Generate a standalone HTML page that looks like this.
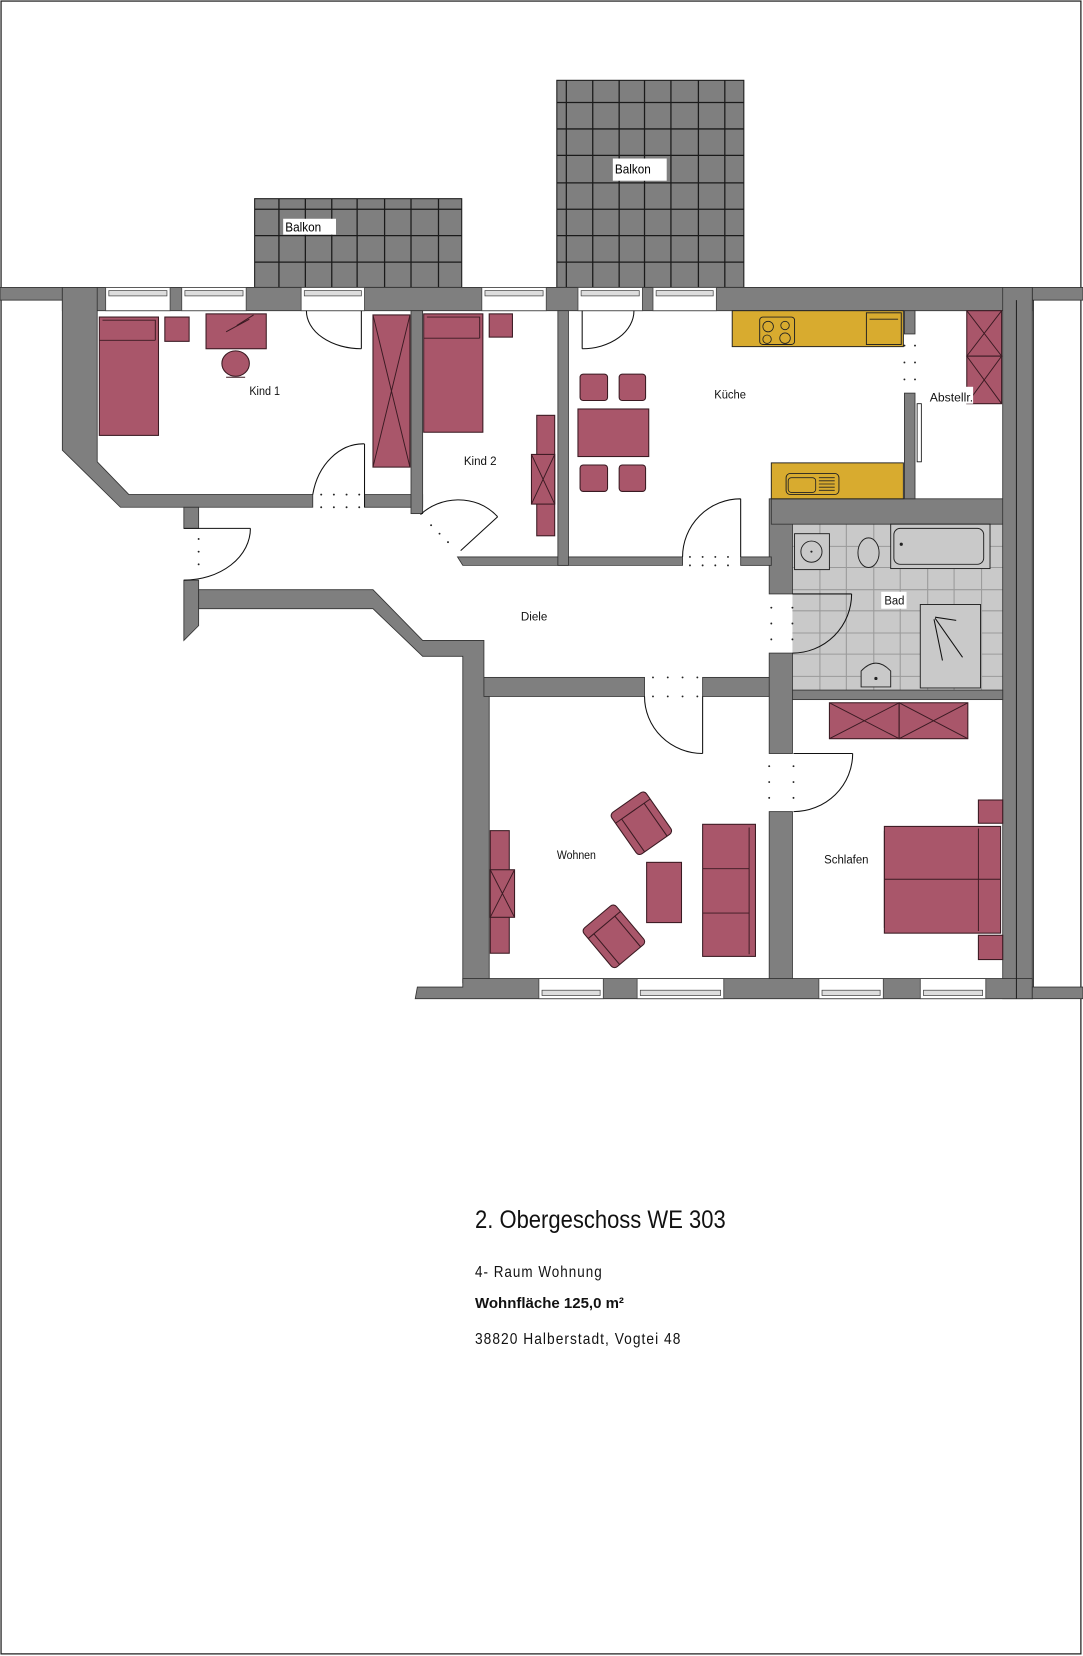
<!DOCTYPE html>
<html><head><meta charset="utf-8"><style>
html,body{margin:0;padding:0;background:#fff}
#w{position:relative;width:1083px;height:1656px;overflow:hidden}
svg{position:absolute;left:0;top:0}
.t{position:absolute;left:475px;white-space:nowrap;color:#111;transform-origin:0 0}
</style></head><body><div id="w">
<svg width="1083" height="1656" viewBox="0 0 1025 1567" preserveAspectRatio="none" font-family="'Liberation Sans',sans-serif">
<rect x="1" y="1" width="1022" height="1564" fill="#fff" stroke="#222" stroke-width="1.2"/>
<g fill="#7f7f7f" stroke="#1a1a1a" stroke-width="1">
<rect x="241" y="188" width="196" height="84"/>
<rect x="527" y="76" width="177" height="196"/>
</g>
<g stroke="#1a1a1a" stroke-width="1.2">
<path d="M264 188V272M289 188V272M314 188V272M338 188V272M364 188V272M389 188V272M415 188V272M241 198H437M241 223H437M241 248H437"/>
<path d="M536 76V272M561 76V272M586 76V272M610 76V272M635 76V272M661 76V272M686 76V272M527 97H704M527 122H704M527 147H704M527 173H704M527 198H704M527 223H704M527 248H704"/>
</g>
<rect x="268" y="207" width="50" height="15" fill="#fff"/>
<text x="270" y="219" font-size="12" textLength="34" lengthAdjust="spacingAndGlyphs">Balkon</text>
<rect x="580" y="150" width="51" height="21" fill="#fff"/>
<text x="582" y="164" font-size="12" textLength="34" lengthAdjust="spacingAndGlyphs">Balkon</text>
<rect x="750" y="496" width="199" height="157" fill="#c9c9c9"/>
<g stroke="#9a9a9a" stroke-width="1">
<path d="M776 496V653M801 496V653M827 496V653M852 496V653M878 496V653M903 496V653M929 496V653M750 517H949M750 537H949M750 558H949M750 578H949M750 599H949M750 619H949M750 640H949"/>
</g>
<g fill="#7f7f7f" stroke="#333" stroke-width="0.8">
<rect x="0" y="272" width="1025" height="12"/>
<rect x="59" y="272" width="918" height="22"/>
<polygon points="59,272 92,272 92,437 122,468 296,468 296,480 114,480 59,426"/>
<rect x="345" y="468" width="55" height="12"/>
<rect x="389" y="294" width="11" height="192"/>
<rect x="174" y="480" width="14" height="20"/>
<polygon points="174,549 188,549 188,592 174,606"/>
<polygon points="188,558 353,558 400,606 458,606 458,641 463,641 463,930 438,930 438,621 400,621 353,576 188,576"/>
<rect x="458" y="641" width="152" height="18"/>
<rect x="665" y="641" width="65" height="18"/>
<rect x="728" y="472" width="22" height="90"/>
<rect x="728" y="618" width="22" height="95"/>
<rect x="728" y="768" width="22" height="162"/>
<polygon points="433,527 646,527 646,535 438,535"/>
<rect x="701" y="527" width="29" height="8"/>
<rect x="528" y="294" width="10" height="241"/>
<rect x="730" y="472" width="232" height="24"/>
<rect x="949" y="272" width="28" height="673"/>
<rect x="856" y="294" width="10" height="22"/>
<rect x="856" y="372" width="10" height="100"/>
<rect x="750" y="653" width="199" height="9"/>
<polygon points="395,934 438,934 438,926 977,926 977,945 393,945"/>
<rect x="977" y="934" width="48" height="11"/>
</g>
<path d="M962 284V945M978 284V934" stroke="#222" stroke-width="1"/>
<g fill="#fff" stroke="#444" stroke-width="0.8">
<rect x="100" y="272" width="61" height="22"/><rect x="172" y="272" width="61" height="22"/>
<rect x="285" y="272" width="60" height="22"/><rect x="456" y="272" width="61" height="22"/>
<rect x="547" y="272" width="61" height="22"/><rect x="618" y="272" width="60" height="22"/>
<rect x="510" y="926" width="61" height="19"/><rect x="603" y="926" width="82" height="19"/>
<rect x="775" y="926" width="61" height="19"/><rect x="871" y="926" width="62" height="19"/>
</g>
<g fill="#ddd" stroke="#444" stroke-width="0.7">
<rect x="103" y="275" width="55" height="5"/><rect x="175" y="275" width="55" height="5"/>
<rect x="288" y="275" width="54" height="5"/><rect x="459" y="275" width="55" height="5"/>
<rect x="550" y="275" width="55" height="5"/><rect x="621" y="275" width="54" height="5"/>
<rect x="513" y="937" width="55" height="5"/><rect x="606" y="937" width="76" height="5"/>
<rect x="778" y="937" width="55" height="5"/><rect x="874" y="937" width="56" height="5"/>
</g>
<g fill="none" stroke="#111" stroke-width="1">
<path d="M342 294V330M342 330A52 36 0 0 1 290 294"/>
<path d="M551 294V330M551 330A49 36 0 0 0 600 294"/>
<path d="M345 480V420M345 420A49 60 0 0 0 296 468"/>
<path d="M174 500H237M237 500A63 49 0 0 1 174 549"/>
<path d="M436 521L471 489M471 489C450 466 415 470 398 487"/>
<path d="M701 527V472M701 472A55 55 0 0 0 646 527"/>
<path d="M750 562H806M806 562A56 56 0 0 1 750 618"/>
<path d="M665 659V713M665 713A55 54 0 0 1 610 659"/>
<path d="M751 713H807M807 713A56 55 0 0 1 751 768"/>
</g>
<g fill="#222">
<circle cx="304" cy="480" r=".9"/><circle cx="316" cy="480" r=".9"/><circle cx="328" cy="480" r=".9"/><circle cx="340" cy="480" r=".9"/>
<circle cx="304" cy="468" r=".9"/><circle cx="316" cy="468" r=".9"/><circle cx="328" cy="468" r=".9"/><circle cx="340" cy="468" r=".9"/>
<circle cx="188" cy="510" r=".9"/><circle cx="188" cy="522" r=".9"/><circle cx="188" cy="534" r=".9"/>
<circle cx="653" cy="535" r=".9"/><circle cx="665" cy="535" r=".9"/><circle cx="677" cy="535" r=".9"/><circle cx="689" cy="535" r=".9"/>
<circle cx="653" cy="527" r=".9"/><circle cx="665" cy="527" r=".9"/><circle cx="677" cy="527" r=".9"/><circle cx="689" cy="527" r=".9"/>
<circle cx="730" cy="575" r=".9"/><circle cx="730" cy="590" r=".9"/><circle cx="730" cy="605" r=".9"/>
<circle cx="750" cy="575" r=".9"/><circle cx="750" cy="590" r=".9"/><circle cx="750" cy="605" r=".9"/>
<circle cx="618" cy="641" r=".9"/><circle cx="632" cy="641" r=".9"/><circle cx="646" cy="641" r=".9"/><circle cx="660" cy="641" r=".9"/>
<circle cx="618" cy="659" r=".9"/><circle cx="632" cy="659" r=".9"/><circle cx="646" cy="659" r=".9"/><circle cx="660" cy="659" r=".9"/>
<circle cx="728" cy="725" r=".9"/><circle cx="728" cy="740" r=".9"/><circle cx="728" cy="755" r=".9"/>
<circle cx="751" cy="725" r=".9"/><circle cx="751" cy="740" r=".9"/><circle cx="751" cy="755" r=".9"/>
<circle cx="856" cy="327" r=".9"/><circle cx="856" cy="343" r=".9"/><circle cx="856" cy="359" r=".9"/>
<circle cx="866" cy="327" r=".9"/><circle cx="866" cy="343" r=".9"/><circle cx="866" cy="359" r=".9"/>
<circle cx="408" cy="497" r=".9"/><circle cx="416" cy="505" r=".9"/><circle cx="424" cy="513" r=".9"/>
</g>
<rect x="868" y="382" width="4" height="55" fill="#fff" stroke="#111" stroke-width="0.8"/>
<g fill="#d8ab2f" stroke="#222" stroke-width="0.9">
<rect x="693" y="294" width="162" height="34"/>
<rect x="730" y="438" width="125" height="34"/>
<rect x="719" y="300" width="33" height="26" rx="3"/>
<rect x="820" y="296" width="33" height="30"/>
<rect x="744" y="448" width="50" height="20" rx="4"/>
</g>
<g fill="none" stroke="#222" stroke-width="0.8">
<circle cx="727" cy="309" r="5"/><circle cx="743" cy="308" r="4"/><circle cx="726" cy="321" r="4"/><circle cx="743" cy="320" r="5"/>
<rect x="746" y="452" width="26" height="14" rx="3"/>
<path d="M775 452H790M775 455H790M775 458H790M775 461H790M775 464H790M823 302H850"/>
</g>
<g fill="#a9566a" stroke="#3a1a22" stroke-width="1">
<rect x="94" y="300" width="56" height="112"/>
<rect x="156" y="300" width="23" height="23"/>
<rect x="195" y="297" width="57" height="33"/>
<ellipse cx="223" cy="344" rx="13" ry="12"/>
<rect x="353" y="298" width="35" height="144"/>
<rect x="401" y="297" width="56" height="112"/>
<rect x="463" y="297" width="22" height="22"/>
<rect x="508" y="393" width="17" height="114"/>
<rect x="503" y="430" width="22" height="47"/>
<rect x="547" y="387" width="67" height="45"/>
<rect x="549" y="354" width="26" height="25" rx="3"/><rect x="586" y="354" width="25" height="25" rx="3"/>
<rect x="549" y="440" width="26" height="25" rx="3"/><rect x="586" y="440" width="25" height="25" rx="3"/>
<rect x="915" y="294" width="33" height="43"/><rect x="915" y="337" width="33" height="45"/>
<rect x="464" y="786" width="18" height="116"/>
<rect x="464" y="823" width="23" height="45"/>
<rect x="665" y="780" width="50" height="125"/>
<rect x="612" y="816" width="33" height="57"/>
<rect x="785" y="665" width="66" height="34"/><rect x="851" y="665" width="65" height="34"/>
<rect x="837" y="782" width="110" height="101"/>
<rect x="926" y="757" width="23" height="22"/><rect x="926" y="885" width="23" height="23"/>
</g>
<g fill="none" stroke="#3a1a22" stroke-width="0.9">
<path d="M97 303H147V322M94 322H147"/>
<path d="M404 300H454V320M401 320H454"/>
<path d="M353 298L388 442M388 298L353 442"/>
<path d="M503 430L525 477M525 430L503 477"/>
<path d="M915 294L948 337M948 294L915 337M915 337L948 382M948 337L915 382"/>
<path d="M464 823L487 868M487 823L464 868"/>
<path d="M665 822H709M665 864H709M709 783V903"/>
<path d="M785 665L851 699M851 665L785 699M851 665L916 699M916 665L851 699"/>
<path d="M837 832H947M926 784V881M837 786V878"/>
<path d="M214 357H232M224 308L240 298M214 314L236 302"/>
</g>
<g transform="translate(607,779) rotate(-35)" fill="#a9566a" stroke="#3a1a22" stroke-width="1">
<rect x="-20" y="-24" width="40" height="48" rx="4"/>
<path d="M-20 -14H20M-13 -14V24M13 -14V24" fill="none"/>
</g>
<g transform="translate(581,886) rotate(-40)" fill="#a9566a" stroke="#3a1a22" stroke-width="1">
<rect x="-20" y="-24" width="40" height="48" rx="4"/>
<path d="M-20 -14H20M-13 -14V24M13 -14V24" fill="none"/>
</g>
<g fill="#c9c9c9" stroke="#222" stroke-width="0.9">
<rect x="843" y="496" width="94" height="42"/>
<rect x="846" y="500" width="85" height="34" rx="6"/>
<rect x="752" y="505" width="33" height="34"/>
<circle cx="768" cy="522" r="10"/>
<ellipse cx="822" cy="523" rx="10" ry="14"/>
<rect x="871" y="572" width="57" height="79"/>
<path d="M815 650V635Q829 620 843 635V650Z"/>
</g>
<g fill="#222"><circle cx="768" cy="522" r="1"/><circle cx="853" cy="515" r="1.5"/><circle cx="829" cy="642" r="1.5"/></g>
<path d="M885 584L905 587M884 586L892 625M885 585L911 622" stroke="#111" stroke-width="1" fill="none"/>
<rect x="878" y="366" width="43" height="16" fill="#fff"/>
<rect x="834" y="560" width="24" height="16" fill="#fff"/>
<g font-size="11" fill="#111" lengthAdjust="spacingAndGlyphs">
<text x="236" y="374" textLength="29" lengthAdjust="spacingAndGlyphs">Kind 1</text>
<text x="439" y="440" textLength="31" lengthAdjust="spacingAndGlyphs">Kind 2</text>
<text x="676" y="377" textLength="30" lengthAdjust="spacingAndGlyphs">Küche</text>
<text x="880" y="380" textLength="41" lengthAdjust="spacingAndGlyphs">Abstellr.</text>
<text x="493" y="587" textLength="25" lengthAdjust="spacingAndGlyphs">Diele</text>
<text x="837" y="572" textLength="19" lengthAdjust="spacingAndGlyphs">Bad</text>
<text x="527" y="813" textLength="37" lengthAdjust="spacingAndGlyphs">Wohnen</text>
<text x="780" y="817" textLength="42" lengthAdjust="spacingAndGlyphs">Schlafen</text>
</g>
</svg>
<div class="t" style="top:1206px;font-family:'Liberation Sans',sans-serif;font-size:25px;transform:scaleX(0.88)">2. Obergeschoss WE 303</div>
<div class="t" style="top:1264px;font-family:'Liberation Sans',sans-serif;font-size:16px;letter-spacing:1.2px;transform:scaleX(0.84)">4- Raum Wohnung</div>
<div class="t" style="top:1295px;font-family:'Liberation Sans',sans-serif;font-size:15px;font-weight:bold">Wohnfläche 125,0 m²</div>
<div class="t" style="top:1331px;font-family:'Liberation Sans',sans-serif;font-size:16px;letter-spacing:1.2px;transform:scaleX(0.86)">38820 Halberstadt, Vogtei 48</div>
</div></body></html>
